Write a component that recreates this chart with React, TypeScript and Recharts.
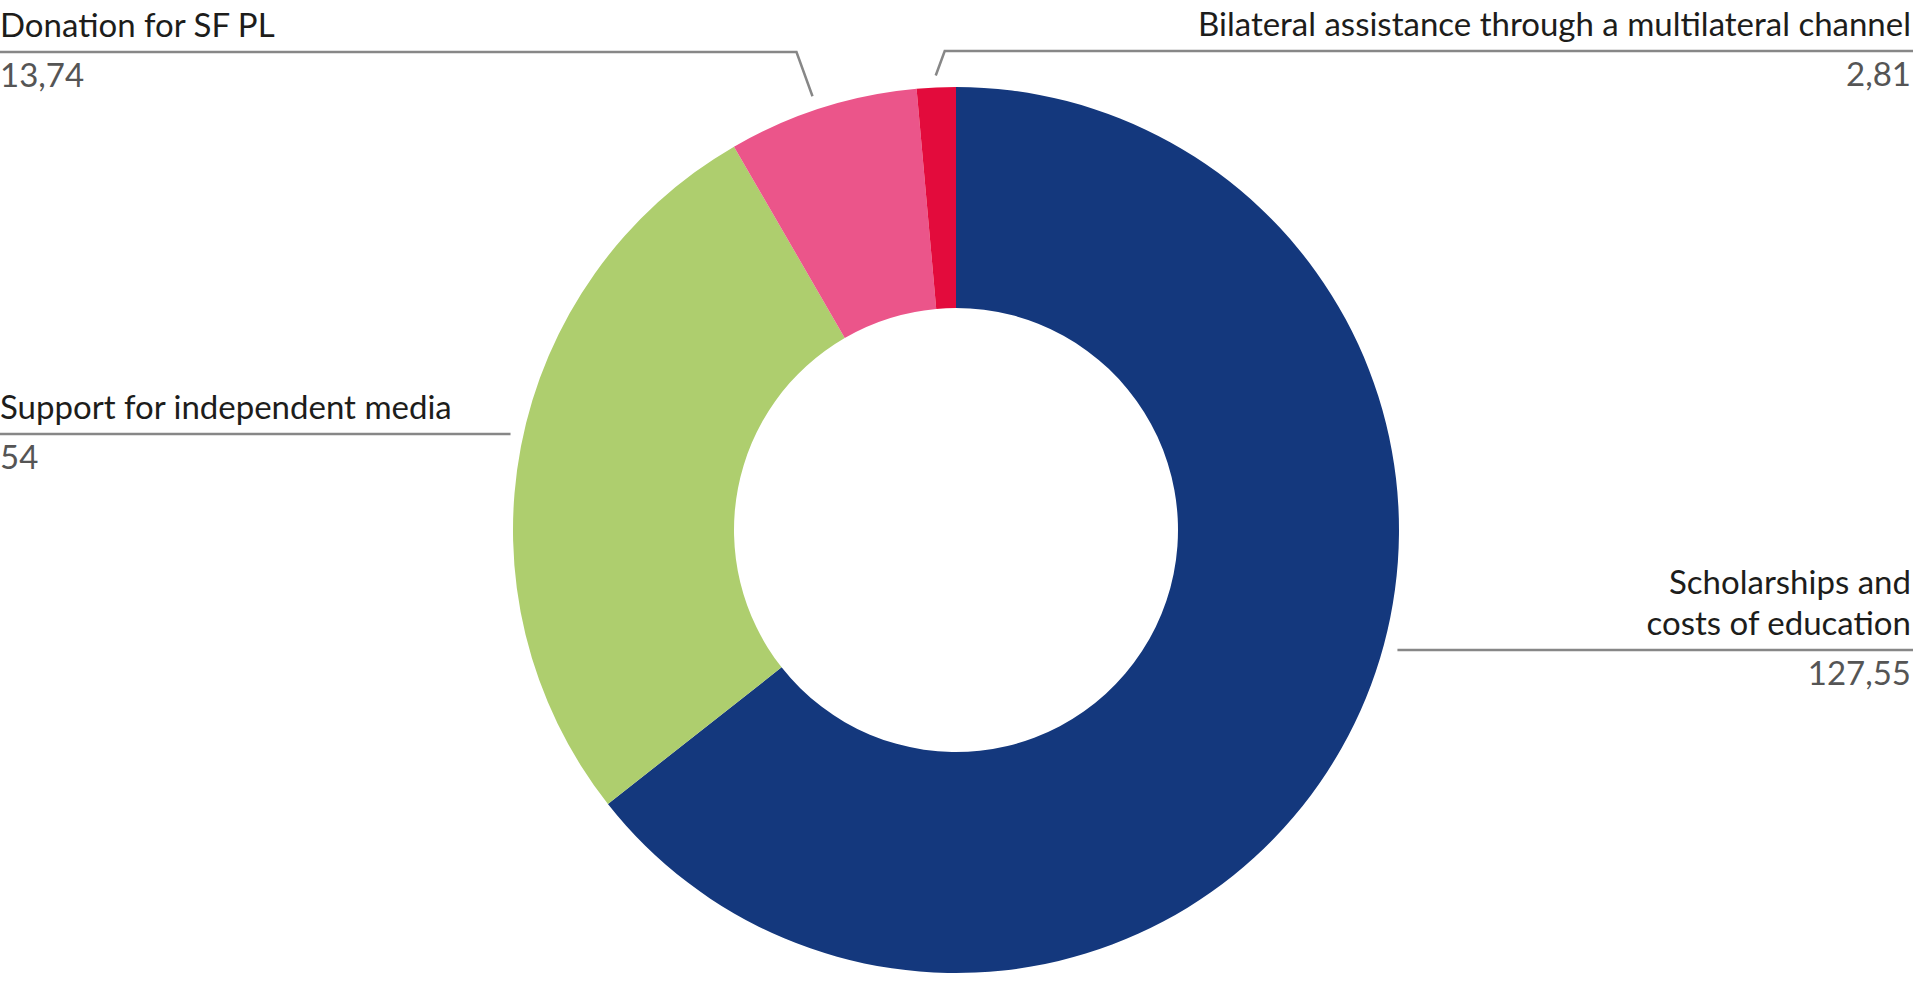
import React from 'react';
import { PieChart, Pie, Cell } from 'recharts';

const categories = [
  'Scholarships and costs of education',
  'Support for independent media',
  'Donation for SF PL',
  'Bilateral assistance through a multilateral channel',
];
const values = [127.55, 54, 13.74, 2.81];
const valueLabels = ['127,55', '54', '13,74', '2,81'];
const colors = ['#14387d', '#aece6e', '#eb558a', '#e30b3c'];

// how each label is set: side of the page, y of its leader line, wrapped text
const labelLines = [
  ['Scholarships and', 'costs of education'],
  ['Support for independent media'],
  ['Donation for SF PL'],
  ['Bilateral assistance through a multilateral channel'],
];
const labelSides = ['right', 'left', 'left', 'right'];
const leaderY = [650, 434, 52, 51];
const elbowDx = [null, null, -16, 9];

const data = categories.map((name, i) => ({
  name,
  value: values[i],
  display: valueLabels[i],
}));

const WIDTH = 1913;
const HEIGHT = 992;
const RADIAN = Math.PI / 180;
const FONT = 'Lato, "Open Sans", sans-serif';
const LINE_COLOR = '#878787';

const renderLabel = (props: any) => {
  const { cx, cy, outerRadius, midAngle, index } = props;
  const side = labelSides[index];
  const y = leaderY[index];
  const edgeX = side === 'right' ? WIDTH : 0;
  let points: string;

  if (elbowDx[index] == null) {
    // horizontal leader stopping just short of the ring
    const dy = y - cy;
    const half = Math.sqrt(Math.max(outerRadius * outerRadius - dy * dy, 0));
    const x = side === 'right' ? cx + half + 15 : cx - half - 13;
    points = `${edgeX},${y} ${x},${y}`;
  } else {
    const r = outerRadius + 12;
    const ax = cx + r * Math.cos(-midAngle * RADIAN) - (index === 2 ? 6 : 0);
    const ay = cy + r * Math.sin(-midAngle * RADIAN);
    const ex = ax + (elbowDx[index] as number);
    points = `${edgeX},${y} ${ex},${y} ${ax},${ay}`;
  }

  const tx = side === 'right' ? WIDTH - 2 : 0;
  const anchor = side === 'right' ? 'end' : 'start';
  const lines = labelLines[index];

  return (
    <g key={`label-${index}`}>
      <polyline points={points} fill="none" stroke={LINE_COLOR} strokeWidth={2.5} />
      {lines.map((line, j) => (
        <text
          key={j}
          x={tx}
          y={y - 15 - (lines.length - 1 - j) * 41}
          textAnchor={anchor}
          fontFamily={FONT}
          fontWeight={400}
          fontSize={33}
          fill="#1d1d1b"
        >
          {line}
        </text>
      ))}
      <text
        x={tx}
        y={y + 35}
        textAnchor={anchor}
        fontFamily={FONT}
        fontWeight={400}
        fontSize={33}
        fill="#555555"
      >
        {data[index].display}
      </text>
    </g>
  );
};

export default function App() {
  return (
    <div style={{ position: 'absolute', left: 0, top: 0, width: WIDTH, height: HEIGHT, background: '#fff' }}>
      <PieChart width={WIDTH} height={HEIGHT} margin={{ top: 0, right: 0, bottom: 0, left: 0 }}>
        <Pie
          data={data}
          dataKey="value"
          nameKey="name"
          cx={956}
          cy={530}
          outerRadius={443}
          innerRadius={222}
          startAngle={90}
          endAngle={-270}
          stroke="none"
          label={renderLabel}
          labelLine={false}
          isAnimationActive={false}
        >
          {data.map((d, i) => (
            <Cell key={d.name} fill={colors[i]} />
          ))}
        </Pie>
      </PieChart>
    </div>
  );
}
